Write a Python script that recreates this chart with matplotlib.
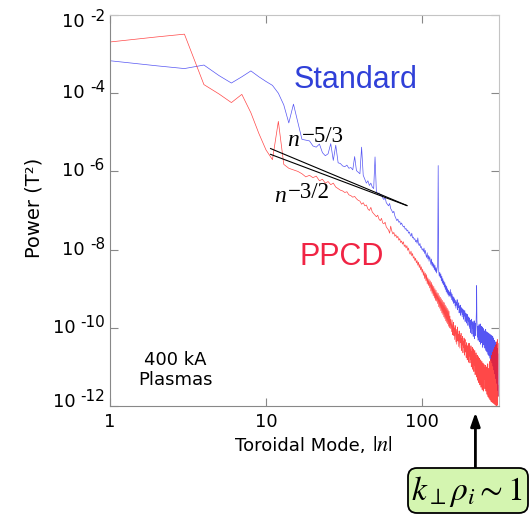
import numpy as np
import matplotlib
matplotlib.use("Agg")
import matplotlib.pyplot as plt
import matplotlib.transforms as mtransforms
from matplotlib.patches import FancyBboxPatch
from matplotlib.ticker import NullLocator

plt.rcParams['mathtext.fontset'] = 'stix'

# log10 of power (T^2) for toroidal mode n = 1, 2, 3, ...
standard_log10 = [
    -3.17, -3.30, -3.37, -3.28, -3.55, -3.74, -3.58, -3.43, -3.58, -3.70,
    -3.80, -4.00, -4.30, -4.76, -4.28, -4.75, -5.18, -5.20, -5.22, -5.35,
    -5.38, -5.30, -5.52, -5.60, -5.55, -5.29, -5.72, -5.33, -5.78, -5.80,
    -5.86, -5.88, -5.84, -5.92, -5.90, -5.96, -5.62, -5.98, -6.02, -6.06,
    -5.38, -6.10, -6.20, -6.30, -6.24, -6.36, -6.30, -6.40, -6.44, -5.63,
    -6.52, -6.58, -6.55, -6.62, -6.60, -6.68, -6.72, -6.66, -6.80, -6.84,
    -6.88, -6.82, -6.95, -7.00, -7.06, -7.02, -7.14, -7.20, -7.26, -7.22,
    -7.30, -7.28, -7.36, -7.32, -7.38, -7.42, -7.40, -7.48, -7.46, -7.52,
    -7.50, -7.58, -7.55, -7.62, -7.66, -7.58, -7.70, -7.68, -7.74, -7.72,
    -7.80, -7.76, -7.84, -7.70, -7.86, -7.90, -7.84, -7.95, -7.92, -8.00,
    -7.98, -8.05, -7.96, -8.10, -8.02, -8.14, -8.20, -8.08, -8.24, -8.15,
    -8.30, -8.18, -8.26, -8.38, -8.24, -8.42, -8.32, -8.46, -8.36, -8.52,
    -8.40, -8.56, -8.46, -8.60, -8.48, -8.40, -5.85, -8.55, -8.68, -8.58,
    -8.72, -8.62, -8.80, -8.68, -8.86, -8.74, -8.90, -8.80, -8.96, -8.84,
    -9.02, -8.90, -9.08, -8.94, -9.12, -9.00, -9.16, -9.04, -9.20, -9.08,
    -9.18, -9.02, -9.22, -9.10, -9.28, -9.14, -9.32, -9.20, -9.38, -9.22,
    -9.36, -9.26, -9.44, -9.30, -9.50, -9.34, -9.42, -9.28, -9.54, -9.40,
    -9.48, -9.36, -9.62, -9.44, -9.56, -9.42, -9.68, -9.48, -9.60, -9.50,
    -9.72, -9.52, -9.66, -9.54, -9.78, -9.58, -9.70, -9.56, -9.84, -9.62,
    -9.76, -9.64, -9.88, -9.68, -9.80, -9.66, -9.94, -9.72, -9.84, -9.74,
    -9.97, -9.76, -10.02, -9.82, -10.12, -9.80, -9.92, -9.78, -10.16, -9.86,
    -10.02, -9.84, -10.22, -9.90, -10.06, -9.82, -10.28, -9.92, -10.10, -9.88,
    -10.20, -9.94, -9.60, -8.92, -9.82, -10.02, -10.24, -9.96, -10.32, -9.98,
    -10.14, -9.92, -10.36, -10.00, -10.18, -9.90, -10.42, -10.02, -10.22, -9.96,
    -10.38, -10.04, -10.26, -9.98, -10.50, -10.06, -10.30, -10.02, -10.44, -10.08,
    -10.30, -10.08, -10.52, -10.14, -10.36, -10.04, -10.58, -10.16, -10.40, -10.10,
    -10.62, -10.18, -10.44, -10.12, -10.68, -10.20, -10.46, -10.14, -10.72, -10.22,
    -10.50, -10.16, -10.78, -10.24, -10.52, -10.18, -10.84, -10.26, -10.56, -10.20,
    -10.90, -10.30, -10.60, -10.22, -10.98, -10.34, -10.66, -10.26, -11.08, -10.38,
    -10.72, -10.32, -11.18, -10.42, -10.78, -10.36, -11.30, -10.48, -10.86, -10.42,
    -11.42, -10.56, -10.96, -10.52, -11.60, -10.66, -11.20, -11.74,
]

ppcd_log10 = [
    -2.69, -2.56, -2.49, -3.78, -4.02, -4.24, -4.03, -4.50, -5.03, -5.45,
    -5.70, -4.72, -5.82, -5.92, -5.96, -6.00, -6.06, -6.14, -6.10, -6.16,
    -6.12, -6.24, -6.20, -6.30, -6.26, -6.34, -6.30, -6.40, -6.44, -6.48,
    -6.50, -6.54, -6.52, -6.60, -6.62, -6.66, -6.64, -6.70, -6.74, -6.76,
    -6.84, -6.80, -6.88, -6.86, -6.96, -7.00, -6.92, -7.04, -7.08, -7.12,
    -7.16, -7.12, -7.22, -7.26, -7.20, -7.32, -7.34, -7.30, -7.42, -7.46,
    -7.50, -7.58, -7.40, -7.52, -7.60, -7.56, -7.66, -7.62, -7.70, -7.66,
    -7.76, -7.72, -7.82, -7.78, -7.86, -7.80, -7.92, -7.88, -7.96, -7.90,
    -8.02, -7.96, -8.08, -8.12, -8.04, -8.16, -8.10, -8.22, -8.18, -8.28,
    -8.22, -8.34, -8.28, -8.40, -8.32, -8.46, -8.38, -8.52, -8.44, -8.58,
    -8.50, -8.66, -8.56, -8.74, -8.60, -8.80, -8.64, -8.88, -8.72, -8.92,
    -8.76, -8.98, -8.80, -9.06, -8.84, -9.12, -8.90, -9.18, -8.94, -9.24,
    -9.00, -9.30, -9.04, -9.32, -9.10, -9.38, -9.12, -9.46, -9.18, -9.50,
    -9.22, -9.56, -9.26, -9.62, -9.30, -9.66, -9.34, -9.72, -9.36, -9.76,
    -9.42, -9.82, -9.46, -9.86, -9.50, -9.90, -9.54, -9.96, -9.58, -10.00,
    -9.70, -10.02, -9.78, -9.92, -10.10, -9.80, -10.18, -9.96, -9.86, -10.20,
    -10.00, -10.30, -9.94, -10.12, -10.36, -10.04, -10.42, -10.10, -9.98, -10.34,
    -10.16, -10.48, -10.08, -10.26, -10.52, -10.20, -10.38, -10.14, -10.58, -10.28,
    -10.44, -10.22, -10.64, -10.34, -10.50, -10.26, -10.70, -10.40, -10.30, -10.62,
    -10.44, -10.76, -10.38, -10.56, -10.82, -10.46, -10.66, -10.40, -10.88, -10.54,
    -10.72, -10.40, -10.90, -10.56, -10.80, -10.46, -11.00, -10.60, -10.84, -10.50,
    -11.06, -10.64, -10.92, -10.54, -11.12, -10.70, -10.96, -10.58, -11.20, -10.72,
    -11.02, -10.64, -11.26, -10.80, -11.08, -10.70, -11.34, -10.84, -11.12, -10.74,
    -11.40, -10.88, -11.16, -10.78, -11.46, -10.92, -11.20, -10.82, -11.52, -10.96,
    -11.24, -10.86, -11.58, -11.00, -11.28, -10.90, -11.62, -11.04, -11.32, -10.94,
    -11.30, -11.02, -11.56, -11.10, -11.36, -10.96, -11.62, -11.14, -11.40, -11.00,
    -11.70, -11.16, -11.42, -10.92, -11.76, -11.20, -11.46, -11.04, -11.80, -11.22,
    -11.50, -10.86, -11.84, -11.26, -11.52, -10.80, -11.88, -11.28, -11.56, -10.70,
    -11.90, -11.30, -11.60, -10.62, -11.92, -11.34, -11.64, -10.56, -11.94, -11.36,
    -11.66, -10.50, -11.96, -11.38, -11.70, -10.44, -11.98, -11.40, -11.72, -10.36,
    -11.99, -11.42, -11.74, -10.30, -11.98, -11.46, -11.76, -10.40,
]

# power-law guide lines: n^-5/3 and n^-3/2 over 10.7 <= n <= 80
fit_range = [10.7, 80.0]
fit_53_log10_amp = -3.70
fit_32_log10_amp = -4.02

krho_n = 220          # mode where k_perp rho_i ~ 1

x_ticks = [1, 10, 100]
x_ticklabels = ['1', '10', '100']
y_exponents = [-2, -4, -6, -8, -10, -12]

W, H = 529, 514
fig = plt.figure(figsize=(W / 100, H / 100), dpi=100)


def fx(px):
    return px / W


def fy(py):
    return 1 - py / H


ax = fig.add_axes([fx(110), fy(406), fx(499) - fx(110), fy(15) - fy(406)])

n_std = np.arange(1, len(standard_log10) + 1)
n_ppcd = np.arange(1, len(ppcd_log10) + 1)
ax.plot(n_std, 10.0 ** np.array(standard_log10), color='#2b2bf0', lw=0.5,
        alpha=0.8)
ax.plot(n_ppcd, 10.0 ** np.array(ppcd_log10), color='#ff1a1a', lw=0.5,
        alpha=0.8)

fx_n = np.array(fit_range)
ax.plot(fx_n, 10.0 ** fit_53_log10_amp * fx_n ** (-5 / 3), color='k', lw=0.8)
ax.plot(fx_n, 10.0 ** fit_32_log10_amp * fx_n ** (-3 / 2), color='k', lw=0.8)

ax.set_xscale('log')
ax.set_yscale('log')
ax.set_xlim(1, 311.6)
ax.set_ylim(1e-12, 1e-2)
ax.set_xticks(x_ticks)
ax.set_xticklabels(x_ticklabels)
ax.set_yticks([10.0 ** e for e in y_exponents])
ax.set_yticklabels([])
ax.xaxis.set_minor_locator(NullLocator())
ax.yaxis.set_minor_locator(NullLocator())
ax.tick_params(direction='in', top=True, right=True, length=6, width=0.8,
               color='#888888', labelsize=13, pad=5)
for s in ['left', 'bottom']:
    ax.spines[s].set_color('#888888')
for s in ['top', 'right']:
    ax.spines[s].set_color('#c4c4c4')

# "10 -n" style labels on the y axis
shift = {-2: -6.7, -12: 4.3}
for e in y_exponents:
    dy = shift.get(e, 0)
    tr = mtransforms.offset_copy(ax.get_yaxis_transform(), fig=fig,
                                 x=-5, y=5.5 + dy, units='dots')
    expo = ax.text(0, 10.0 ** e, '-%d' % -e, transform=tr, ha='right',
                   va='center', fontsize=11)
    ax.annotate('10', xy=(0, 0.5), xycoords=expo, xytext=(-5, -5.5),
                textcoords='offset pixels', ha='right', va='center',
                fontsize=13)

fig.text(fx(34), fy(207.5), 'Power (T²)', rotation=90, ha='center',
         va='center', fontsize=14)
fig.text(fx(366), fy(451), 'Toroidal Mode,', ha='right', va='baseline',
         fontsize=13)
fig.text(fx(372), fy(451), r'$|n|$', ha='left', va='baseline', fontsize=16)

fig.text(fx(175), fy(370), '400 kA\nPlasmas', ha='center', va='center',
         fontsize=13, linespacing=1.1, multialignment='center')

fig.text(fx(355.5), fy(88), 'Standard', color='#3040d8', fontsize=22,
         family='Liberation Sans', ha='center', va='baseline')
fig.text(fx(342), fy(265), 'PPCD', color='#f02444', fontsize=22,
         family='Liberation Sans', ha='center', va='baseline')

fig.text(fx(287), fy(146), 'n', family='Liberation Serif', style='italic',
         fontsize=17, va='baseline')
fig.text(fx(302), fy(142), '\u22125/3', family='Liberation Serif',
         fontsize=16.5, va='baseline')
fig.text(fx(274), fy(202), 'n', family='Liberation Serif', style='italic',
         fontsize=17, va='baseline')
fig.text(fx(288), fy(198), '\u22123/2', family='Liberation Serif',
         fontsize=16.5, va='baseline')

# k_perp rho_i ~ 1 marker
ax.annotate('', xy=(krho_n, -0.0166), xycoords=('data', 'axes fraction'),
            xytext=(krho_n, -0.1586), textcoords=('data', 'axes fraction'),
            arrowprops=dict(arrowstyle='-|>,head_length=0.8,head_width=0.28',
                            color='k', lw=2, shrinkA=0, shrinkB=0,
                            mutation_scale=10),
            annotation_clip=False)
box = FancyBboxPatch((4.08, 0.01), 1.20, 0.45,
                     boxstyle='round,pad=0,rounding_size=0.09',
                     transform=fig.dpi_scale_trans, facecolor='#d4f5b0',
                     edgecolor='black', lw=1.3)
fig.add_artist(box)
fig.text(fx(467), fy(500), r'$k_{\perp}\rho_i \sim 1$', ha='center',
         va='baseline', fontsize=24)

fig.savefig('out.png', dpi=100)
